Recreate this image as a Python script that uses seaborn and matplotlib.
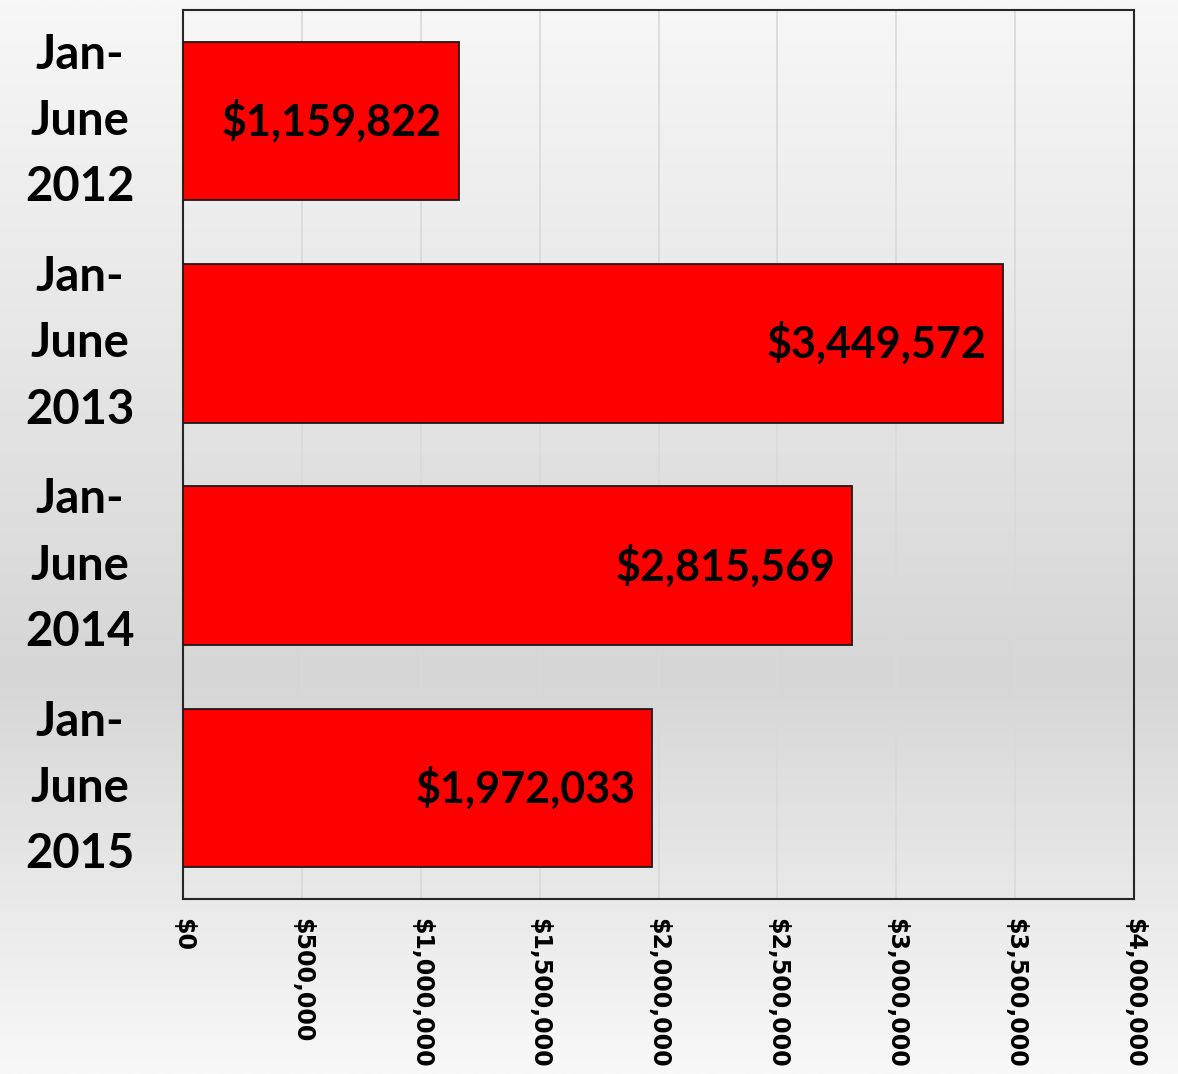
import numpy as np
import pandas as pd
import matplotlib
matplotlib.use("Agg")
import matplotlib.pyplot as plt
from matplotlib.colors import LinearSegmentedColormap
from matplotlib.ticker import FuncFormatter
import seaborn as sns

categories = ["Jan-\nJune\n2012", "Jan-\nJune\n2013", "Jan-\nJune\n2014", "Jan-\nJune\n2015"]
values = [1159822, 3449572, 2815569, 1972033]
value_labels = ["$1,159,822", "$3,449,572", "$2,815,569", "$1,972,033"]
x_ticks = [0, 500000, 1000000, 1500000, 2000000, 2500000, 3000000, 3500000, 4000000]

df = pd.DataFrame({"period": categories, "amount": values})

sns.set_theme(style="white")
plt.rcParams["font.family"] = ["DejaVu Sans"]

W, H = 1178, 1074
fig = plt.figure(figsize=(W / 100, H / 100), dpi=100)

# background gradient
bg = fig.add_axes([0, 0, 1, 1], zorder=-10)
cmap = LinearSegmentedColormap.from_list(
    "bg", [(0.0, "#f7f7f7"), (0.63, "#d6d6d6"), (1.0, "#f8f8f8")])
grad = np.linspace(0, 1, 512).reshape(-1, 1)
bg.imshow(grad, aspect="auto", cmap=cmap, extent=[0, 1, 0, 1], origin="upper")
bg.set_axis_off()

left, right = 183 / W, 1134 / W
top, bottom = 1 - 10 / H, 1 - 899 / H
ax = fig.add_axes([left, bottom, right - left, top - bottom])
ax.patch.set_alpha(0)

sns.barplot(data=df, y="period", x="amount", orient="h", color="#ff0000",
            saturation=1, width=0.713, edgecolor="#1a1a1a", linewidth=1.3,
            ax=ax, zorder=3)

ax.set_xlim(0, 4000000)
ax.set_ylim(3.5, -0.5)
ax.set_xticks(x_ticks)
ax.xaxis.set_major_formatter(FuncFormatter(lambda v, p: "${:,.0f}".format(v)))
ax.grid(axis="x", color="#d9d9d9", linewidth=1.2, zorder=0)
ax.grid(axis="y", visible=False)
ax.set_axisbelow(True)
for s in ax.spines.values():
    s.set_color("#262626")
    s.set_linewidth(1.5)

ax.set_xlabel("")
ax.set_ylabel("")
for lab in ax.get_xticklabels():
    lab.set_rotation(-90)
    lab.set_ha("center")
    lab.set_va("top")
    lab.set_fontweight("bold")
    lab.set_fontsize(17)
    lab.set_color("black")
ax.tick_params(axis="x", pad=14, length=0)
ax.tick_params(axis="y", pad=74, length=0)
for lab in ax.get_yticklabels():
    lab.set_fontfamily(["Lato", "DejaVu Sans"])
    lab.set_fontweight("bold")
    lab.set_fontsize(34)
    lab.set_ha("center")
    lab.set_va("center")
    lab.set_linespacing(1.62)
    lab.set_color("black")

for i, (v, t) in enumerate(zip(values, value_labels)):
    ax.annotate(t, xy=(v, i), xytext=(-12, 0), textcoords="offset points",
                ha="right", va="center", fontsize=31, fontweight="bold",
                family=["Lato", "DejaVu Sans"], color="black", zorder=5)

fig.savefig("out.png", dpi=100)
